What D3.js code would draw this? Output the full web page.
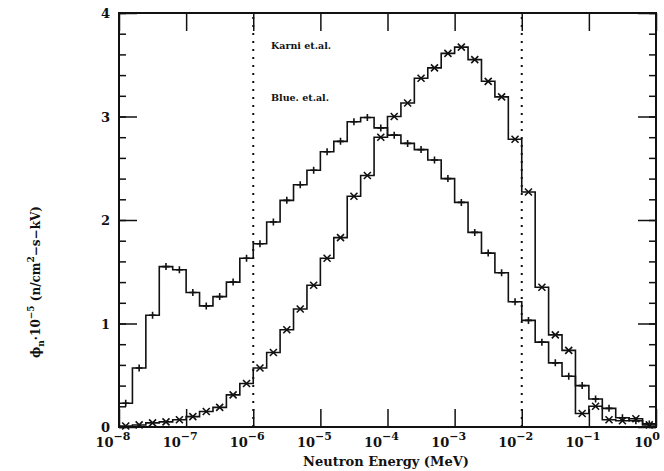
<!DOCTYPE html>
<html>
<head>
<meta charset="utf-8">
<script src="https://cdn.jsdelivr.net/npm/d3@7"></script>
<style>
  body { margin: 0; background: #fff; }
  text { font-family: "DejaVu Serif", serif; font-weight: bold; fill: #111; }
</style>
</head>
<body>
<div id="chart"></div>
<script>
// bin lower edges, log10(MeV), 5 bins per decade from 1e-8 to 1e0
var binExp = d3.range(-8, 0.001, 0.2).map(function(d){ return Math.round(d * 10) / 10 })

// "+" series (thermal + epithermal)
var plusValues = [0.23, 0.57, 1.08, 1.55, 1.52, 1.30, 1.17, 1.26, 1.40, 1.63,
                  1.77, 1.98, 2.19, 2.34, 2.48, 2.66, 2.76, 2.95, 2.99, 2.89,
                  2.82, 2.74, 2.68, 2.58, 2.40, 2.17, 1.88, 1.68, 1.49, 1.21,
                  1.03, 0.82, 0.62, 0.49, 0.40, 0.27, 0.18, 0.09, 0.06, 0.03]

// "x" series (peak near 1 keV)
var crossValues = [0.01, 0.02, 0.04, 0.05, 0.07, 0.10, 0.15, 0.19, 0.31, 0.42,
                   0.57, 0.72, 0.94, 1.14, 1.37, 1.63, 1.83, 2.23, 2.43, 2.80,
                   3.00, 3.13, 3.37, 3.47, 3.61, 3.67, 3.55, 3.34, 3.19, 2.78,
                   2.27, 1.35, 0.89, 0.74, 0.13, 0.20, 0.07, 0.06, 0.08, 0.02]

var xTickExp = [-8, -7, -6, -5, -4, -3, -2, -1, 0]
var yTicks = [0, 1, 2, 3, 4]
var markerLines = [1e-6, 1e-2]
var labels = ["Karni et.al.", "Blue. et.al."]

var svg = d3.select("#chart")
    .append("svg")
        .attr("width", 664)
        .attr("height", 471)

var x = d3.scaleLog()
    .domain([1e-8, 1])
    .range([119, 656])
var y = d3.scaleLinear()
    .domain([0, 4])
    .range([427, 13])

// frame ticks
var yMinor = d3.range(0, 4.01, 0.2)
svg.append("g")
    .attr("transform", "translate(119,0)")
    .call(d3.axisRight(y).tickValues(yMinor).tickSize(7).tickFormat(""))
    .call(function(g){ g.select(".domain").remove() })
svg.append("g")
    .attr("transform", "translate(656,0)")
    .call(d3.axisLeft(y).tickValues(yMinor).tickSize(7).tickFormat(""))
    .call(function(g){ g.select(".domain").remove() })
svg.append("g")
    .attr("transform", "translate(119,0)")
    .call(d3.axisRight(y).tickValues(yTicks).tickSize(18).tickFormat(""))
    .call(function(g){ g.select(".domain").remove() })
svg.append("g")
    .attr("transform", "translate(656,0)")
    .call(d3.axisLeft(y).tickValues(yTicks).tickSize(18).tickFormat(""))
    .call(function(g){ g.select(".domain").remove() })

var xTickVals = xTickExp.map(function(e){ return Math.pow(10, e) })
svg.append("g")
    .attr("transform", "translate(0,427)")
    .call(d3.axisTop(x).tickValues(xTickVals).tickSize(18).tickFormat(""))
    .call(function(g){ g.select(".domain").remove() })
svg.append("g")
    .attr("transform", "translate(0,13)")
    .call(d3.axisBottom(x).tickValues(xTickVals).tickSize(18).tickFormat(""))
    .call(function(g){ g.select(".domain").remove() })

svg.selectAll(".tick line")
    .attr("stroke", "#111")
    .attr("stroke-width", 1.5)

svg.append("rect")
    .attr("x", 119)
    .attr("y", 13)
    .attr("width", 656 - 119)
    .attr("height", 427 - 13)
    .attr("fill", "none")
    .attr("stroke", "#111")
    .attr("stroke-width", 2)

// dotted guides
svg.selectAll("guide")
    .data(markerLines)
    .join("line")
    .attr("x1", function(d){ return x(d) })
    .attr("x2", function(d){ return x(d) })
    .attr("y1", y(0))
    .attr("y2", y(4))
    .attr("stroke", "#111")
    .attr("stroke-width", 2)
    .attr("stroke-dasharray", "2,6")

// histograms
function stepPoints(vals) {
    var pts = [[binExp[0], 0]]
    vals.forEach(function(v, i){ pts.push([binExp[i], v]) })
    pts.push([binExp[vals.length], vals[vals.length - 1]])
    pts.push([binExp[vals.length], 0])
    return pts
}
var line = d3.line()
    .x(function(d){ return x(Math.pow(10, d[0])) })
    .y(function(d){ return y(d[1]) })
    .curve(d3.curveStepAfter)

;[plusValues, crossValues].forEach(function(vals){
    svg.append("path")
        .attr("d", line(stepPoints(vals)))
        .attr("fill", "none")
        .attr("stroke", "#111")
        .attr("stroke-width", 1.6)
})

function center(i) { return x(Math.pow(10, binExp[i] + 0.1)) }

svg.append("g")
    .selectAll("path")
    .data(plusValues)
    .join("path")
    .attr("d", function(d, i){
        var cx = center(i), cy = y(d)
        return "M" + (cx - 3.5) + "," + cy + "H" + (cx + 3.5) +
               "M" + cx + "," + (cy - 3.5) + "V" + (cy + 3.5)
    })
    .attr("stroke", "#111")
    .attr("stroke-width", 1.6)

svg.append("g")
    .selectAll("path")
    .data(crossValues)
    .join("path")
    .attr("d", function(d, i){
        var cx = center(i), cy = y(d)
        return "M" + (cx - 3.5) + "," + (cy - 3.5) + "L" + (cx + 3.5) + "," + (cy + 3.5) +
               "M" + (cx - 3.5) + "," + (cy + 3.5) + "L" + (cx + 3.5) + "," + (cy - 3.5)
    })
    .attr("stroke", "#111")
    .attr("stroke-width", 1.6)

// series labels
svg.selectAll("serieslabel")
    .data(labels)
    .join("text")
    .attr("x", 271)
    .attr("y", function(d, i){ return 49 + i * 52 })
    .style("font-size", "9.5px")
    .text(function(d){ return d })

// tick labels
svg.selectAll("ylabel")
    .data(yTicks)
    .join("text")
    .attr("x", 110)
    .attr("y", function(d){ return y(d) + 5 })
    .attr("text-anchor", "end")
    .style("font-size", "13px")
    .text(function(d){ return d })

var xl = svg.selectAll("xlabel")
    .data(xTickExp)
    .join("text")
    .attr("x", function(d){ return x(Math.pow(10, d)) - (d === 0 ? 9 : 6) })
    .attr("y", 447)
    .attr("text-anchor", "middle")
    .style("font-size", "13px")
xl.append("tspan").text("10")
xl.append("tspan")
    .attr("dy", -7)
    .style("font-size", "11px")
    .text(function(d){ return d === 0 ? "0" : "\u2212" + (-d) })

svg.append("text")
    .attr("x", 386)
    .attr("y", 466)
    .attr("text-anchor", "middle")
    .style("font-size", "13px")
    .text("Neutron Energy (MeV)")

var yl = svg.append("text")
    .attr("transform", "translate(40,282) rotate(-90)")
    .attr("text-anchor", "middle")
    .style("font-size", "12px")
yl.append("tspan").text("\u03D5")
yl.append("tspan").attr("dy", 4).style("font-size", "9px").text("n")
yl.append("tspan").attr("dy", -4).text("\u00B710")
yl.append("tspan").attr("dy", -6).style("font-size", "9px").text("\u22125")
yl.append("tspan").attr("dy", 6).text(" (n/cm")
yl.append("tspan").attr("dy", -6).style("font-size", "9px").text("2")
yl.append("tspan").attr("dy", 6).text("\u2212s\u2212kV)")
</script>
</body>
</html>
